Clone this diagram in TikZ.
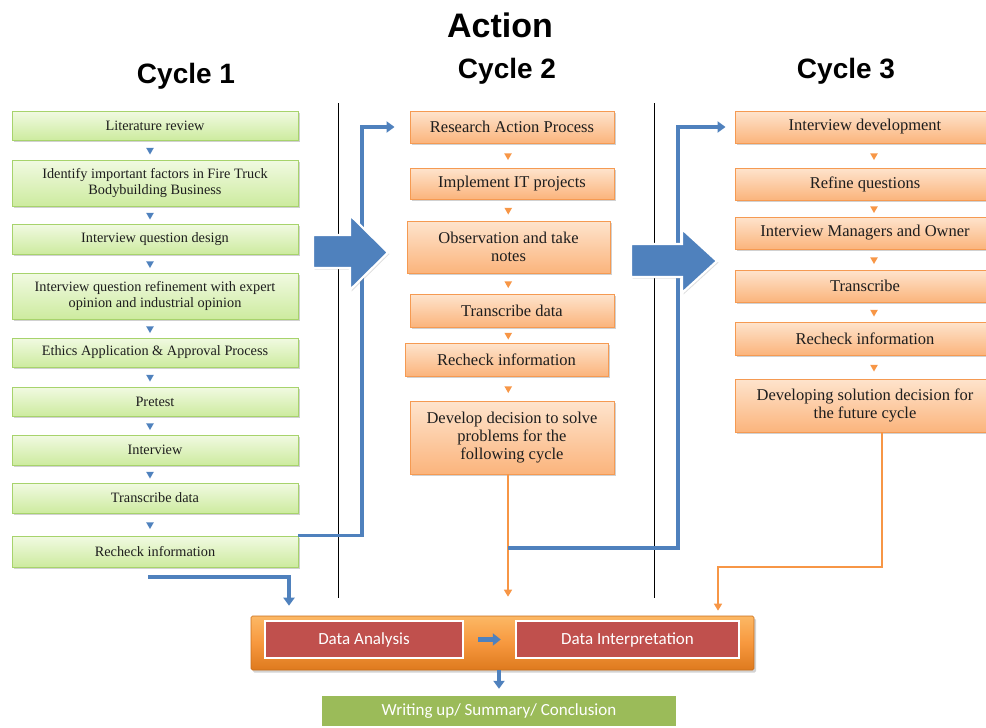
\documentclass[tikz,border=0pt]{standalone}
\usepackage{fontspec}
\setmainfont{Liberation Serif}
\newfontfamily\headfont{Liberation Sans}
\newfontfamily\calfont{Carlito}
\usetikzlibrary{arrows.meta,shapes.geometric,shadows,calc}

\definecolor{accblue}{HTML}{4F81BD}
\definecolor{accorange}{HTML}{F79646}
\definecolor{gtop}{HTML}{F1FAE2}
\definecolor{gbot}{HTML}{CDEB9F}
\definecolor{gborder}{HTML}{A7D36C}
\definecolor{otop}{HTML}{FEE4CD}
\definecolor{obot}{HTML}{FBB47C}
\definecolor{oborder}{HTML}{F59A52}
\definecolor{bartop}{HTML}{FCB865}
\definecolor{barmid}{HTML}{F7983E}
\definecolor{barbot}{HTML}{DE7A1E}
\definecolor{redbox}{HTML}{C0504D}
\definecolor{greenbox}{HTML}{9BBB59}
\definecolor{txt}{HTML}{1E1E1E}

\tikzset{
  softshadow/.style={drop shadow={opacity=0.30,shadow xshift=1.5pt,shadow yshift=-1.8pt,fill=black!60}},
  gbox/.style={rectangle, draw=gborder, line width=0.9pt, top color=gtop, bottom color=gbot,
    softshadow, text=txt, align=center, inner sep=2pt,
    font=\fontsize{14.3}{15.5}\selectfont},
  obox/.style={rectangle, draw=oborder, line width=0.9pt, top color=otop, bottom color=obot,
    softshadow, text=txt, align=center, inner sep=2pt,
    font=\fontsize{16.5}{18}\selectfont},
  btri/.style={regular polygon, regular polygon sides=3, shape border rotate=180,
    fill=accblue, draw=none, inner sep=0pt, minimum size=9pt},
  otri/.style={btri, fill=accorange},
  bconn/.style={draw=accblue, line width=3.5pt, -{Triangle[width=11pt,length=8pt]}},
  oconn/.style={draw=accorange, line width=1.5pt, -{Triangle[width=8pt,length=7pt]}},
  sep/.style={draw=black, line width=0.9pt},
  bigarrow/.style={fill=accblue, draw=white, line width=2.2pt, line join=miter,
    drop shadow={opacity=0.25,shadow xshift=1.5pt,shadow yshift=-1.5pt}},
  ttl/.style={font=\headfont\bfseries\fontsize{28}{30}\selectfont, anchor=base},
  redlbl/.style={rectangle, fill=redbox, draw=white, line width=2.4pt, text=white,
    font=\calfont\fontsize{17}{19}\selectfont},
}

\begin{document}
\begin{tikzpicture}[x=1pt,y=-1pt]
\useasboundingbox (0,0) rectangle (986,728);
\clip (0,0) rectangle (986,728);

% headings
\node[ttl, font=\headfont\bfseries\fontsize{34}{36}\selectfont] (action) at (500,37) {Action};
\node[ttl] (cyc1) at (186,83) {Cycle 1};
\node[ttl] (cyc2) at (507,78) {Cycle 2};
\node[ttl] (cyc3) at (846,78) {Cycle 3};

% separators between the cycles
\coordinate (s1a) at (338,103); \coordinate (s1b) at (338,598);
\coordinate (s2a) at (654,103); \coordinate (s2b) at (654,598);
\draw[sep] (s1a) -- (s1b);
\draw[sep] (s2a) -- (s2b);

% cycle 1
\node[gbox, minimum width=286, minimum height=29] (c1a) at (155,125.5) {Literature review};
\node[gbox, minimum width=286, minimum height=46] (c1b) at (155,183) {Identify important factors in Fire Truck\\Bodybuilding Business};
\node[gbox, minimum width=286, minimum height=30] (c1c) at (155,239) {Interview question design};
\node[gbox, minimum width=286, minimum height=46] (c1d) at (155,296) {Interview question refinement with expert\\opinion and industrial opinion};
\node[gbox, minimum width=286, minimum height=29] (c1e) at (155,352.5) {Ethics Application \& Approval Process};
\node[gbox, minimum width=286, minimum height=29] (c1f) at (155,401.5) {Pretest};
\node[gbox, minimum width=286, minimum height=30] (c1g) at (155,450) {Interview};
\node[gbox, minimum width=286, minimum height=30] (c1h) at (155,498) {Transcribe data};
\node[gbox, minimum width=286, minimum height=31] (c1i) at (155,551.5) {Recheck information};
\foreach \u/\v in {c1a/c1b,c1b/c1c,c1c/c1d,c1d/c1e,c1e/c1f,c1f/c1g,c1g/c1h,c1h/c1i}
  \path ([xshift=-5pt]\u.south) -- node[btri]{} ([xshift=-5pt]\v.north);

% cycle 2
\node[obox, minimum width=204, minimum height=32] (c2a) at (512,127) {Research Action Process};
\node[obox, minimum width=204, minimum height=31] (c2b) at (512,183.5) {Implement IT projects};
\node[obox, minimum width=203, minimum height=52] (c2c) at (508.5,247) {Observation and take\\notes};
\node[obox, minimum width=204, minimum height=33] (c2d) at (512,310.5) {Transcribe data};
\node[obox, minimum width=203, minimum height=33] (c2e) at (506.5,359.5) {Recheck information};
\node[obox, minimum width=204, minimum height=73] (c2f) at (512,437.5) {Develop decision to solve\\problems for the\\following cycle};
\path ([xshift=-4pt]c2a.south) -- node[otri]{} ([xshift=-4pt]c2b.north);
\path ([xshift=-4pt]c2b.south) -- node[otri]{} (c2c.north);
\path (c2c.south) -- node[otri]{} ([xshift=-4pt]c2d.north);
\path ([xshift=-4pt]c2d.south) -- node[otri]{} ([xshift=2pt]c2e.north);
\path ([xshift=2pt]c2e.south) -- node[otri]{} ([xshift=-4pt]c2f.north);

% cycle 3
\node[obox, minimum width=260, minimum height=32] (c3a) at (865,127) {Interview development};
\node[obox, minimum width=260, minimum height=32] (c3b) at (865,184) {Refine questions};
\node[obox, minimum width=260, minimum height=32] (c3c) at (865,233) {Interview Managers and Owner};
\node[obox, minimum width=260, minimum height=32] (c3d) at (865,286) {Transcribe};
\node[obox, minimum width=260, minimum height=33] (c3e) at (865,338.5) {Recheck information};
\node[obox, minimum width=260, minimum height=53] (c3f) at (865,405.5) {Developing solution decision for\\the future cycle};
\foreach \u/\v in {c3a/c3b,c3b/c3c,c3c/c3d,c3d/c3e,c3e/c3f}
  \path ([xshift=9pt]\u.south) -- node[otri]{} ([xshift=9pt]\v.north);

% analysis bar and final box
\node[rectangle, rounded corners=1.5pt, draw=barbot!90!black, line width=0.6pt,
  top color=bartop, bottom color=barbot, middle color=barmid,
  drop shadow={opacity=0.35,shadow xshift=2pt,shadow yshift=-2.5pt},
  minimum width=503, minimum height=54] (bar) at (502.5,643) {};
\node[redlbl, minimum width=198, minimum height=37] (da) at (364,639.5) {Data Analysis};
\node[redlbl, minimum width=223, minimum height=37] (di) at (627.5,639.5) {Data Interpretation};
\node[rectangle, fill=greenbox, draw=white, line width=2.4pt, text=white,
  font=\calfont\fontsize{17}{19}\selectfont,
  minimum width=356, minimum height=32] (wr) at (499,711) {Writing up/ Summary/ Conclusion};

% connectors
\coordinate (j1) at (362,127);
\draw[bconn, shorten >=15pt] (c1i.north east) -| (j1) -- (c2a.west);

\coordinate (k1) at (289,577);
\draw[bconn, shorten >=10pt] ([xshift=-5pt,yshift=-8pt]c1i.south) |- (k1) -- (k1 |- bar.north);

\draw[oconn, shorten >=19pt] ([xshift=-4pt]c2f.south) -- ([xshift=-4pt]c2f.south |- bar.north);

\coordinate (j2) at (508,548);
\coordinate (j3) at (678,127);
\draw[bconn, shorten >=9pt] (j2) -| (j3) -- (c3a.west);

\coordinate (j4) at (882,567);
\coordinate (j5) at (718,567);
\draw[oconn, shorten >=5pt] (c3f.south -| j4) -- (j4) -- (j5) -- (j5 |- bar.north);

\draw[accblue, line width=4.5pt, -{Triangle[width=12pt,length=8pt]}, shorten <=14pt, shorten >=14pt]
  (da.east) -- (di.west);
\draw[bconn, shorten >=5pt] (wr.north |- bar.south) -- (wr.north);

% block arrows between cycles
\path[bigarrow] (313,235) -- (350,235) -- (350,215) -- (388,252.5) -- (350,290) -- (350,268) -- (313,268) -- cycle;
\path[bigarrow] (631,244) -- (682,244) -- (682,229) -- (717,261) -- (682,293) -- (682,277) -- (631,277) -- cycle;
\end{tikzpicture}
\end{document}
